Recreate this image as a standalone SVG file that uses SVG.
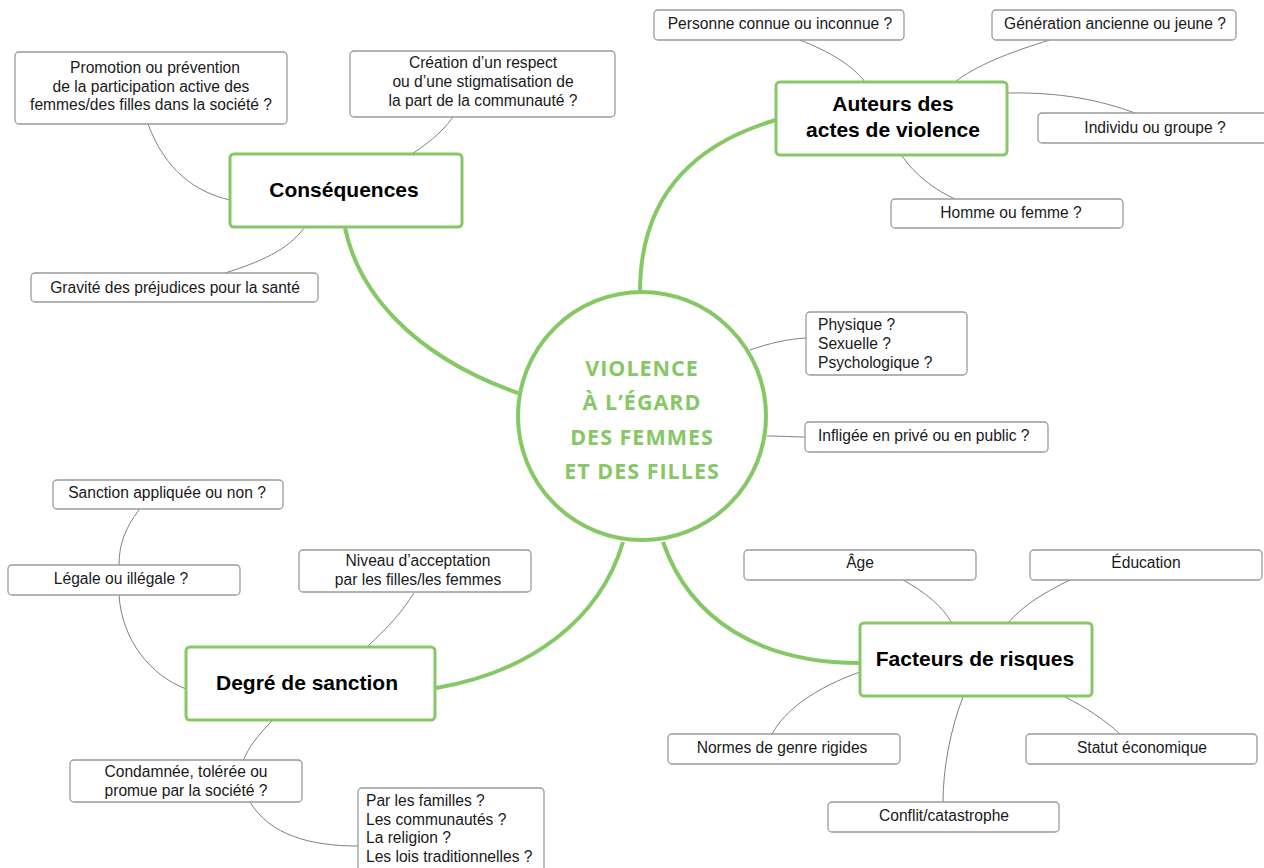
<svg xmlns="http://www.w3.org/2000/svg" width="1264" height="868" viewBox="0 0 1264 868">
<style>
.bg{fill:#ffffff}
.main{fill:#ffffff;stroke:#86c766;stroke-width:3}
.sub{fill:#ffffff;stroke:#9b9b9b;stroke-width:1.3}
.hub{fill:#ffffff;stroke:#86c766;stroke-width:4}
.thick{fill:none;stroke:#86c766;stroke-width:4}
.thin{fill:none;stroke:#808080;stroke-width:1}
.t{font-family:"Liberation Sans",Arial,sans-serif;font-size:15.6px;fill:#1a1a1a}
.c{text-anchor:middle}
.h{font-family:"Liberation Sans",Arial,sans-serif;font-size:21px;font-weight:bold;fill:#000;text-anchor:middle}
.hubt{font-family:"Open Sans","Liberation Sans",sans-serif;font-size:21.5px;font-weight:bold;fill:#86c766;text-anchor:middle;letter-spacing:1px}
</style>
<rect class="bg" x="0" y="0" width="1264" height="868"/>
<g id="connectors">
<path class="thick" d="M640,292 C640,200 690,145 776,120"/>
<path class="thick" d="M345,228 C358,290 410,355 518,393"/>
<path class="thick" d="M436,688 C530,672 600,620 623,542"/>
<path class="thick" d="M663,542 C690,620 760,663 860,663"/>
<path class="thin" d="M148,124 C165,170 195,192 230,200"/>
<path class="thin" d="M453,117 C440,135 425,145 412,154"/>
<path class="thin" d="M225,273 C260,262 288,250 304,228"/>
<path class="thin" d="M800,40 C830,52 852,65 865,82"/>
<path class="thin" d="M1050,40 C1010,52 975,66 955,82"/>
<path class="thin" d="M1008,93 C1060,92 1100,100 1135,113"/>
<path class="thin" d="M902,156 C915,175 935,190 955,199"/>
<path class="thin" d="M750,350 C770,343 788,339 806,338"/>
<path class="thin" d="M767,436 C780,436 793,437 805,437"/>
<path class="thin" d="M139,510 C125,528 119,545 119,565"/>
<path class="thin" d="M119,595 C122,640 150,675 186,689"/>
<path class="thin" d="M414,593 C400,615 385,630 368,646"/>
<path class="thin" d="M272,721 C258,735 248,748 243,761"/>
<path class="thin" d="M250,802 C270,835 310,846 358,846"/>
<path class="thin" d="M903,580 C925,592 942,606 952,623"/>
<path class="thin" d="M1070,580 C1045,592 1022,606 1008,623"/>
<path class="thin" d="M860,672 C815,688 785,710 772,734"/>
<path class="thin" d="M1065,697 C1085,707 1105,720 1120,734"/>
<path class="thin" d="M963,697 C950,730 943,770 943,802"/>
</g>
<g id="hub">
<circle class="hub" cx="642" cy="416" r="124"/>
<text class="hubt" x="642" y="376">VIOLENCE</text>
<text class="hubt" x="642" y="410">À L’ÉGARD</text>
<text class="hubt" x="642" y="445">DES FEMMES</text>
<text class="hubt" x="642" y="479">ET DES FILLES</text>
</g>
<g id="consequences">
<rect class="main" x="230" y="154" width="232" height="73" rx="4"/>
<text class="h" x="344" y="197">Conséquences</text>
</g>
<g id="auteurs">
<rect class="main" x="776" y="82" width="231" height="73" rx="4"/>
<text class="h" x="893" y="111">Auteurs des</text>
<text class="h" x="893" y="137">actes de violence</text>
</g>
<g id="degre">
<rect class="main" x="186" y="647" width="249" height="73" rx="4"/>
<text class="h" x="307" y="690">Degré de sanction</text>
</g>
<g id="facteurs">
<rect class="main" x="860" y="623" width="232" height="73" rx="4"/>
<text class="h" x="975" y="666">Facteurs de risques</text>
</g>
<g id="promotion">
<rect class="sub" x="15" y="52" width="272" height="72" rx="4"/>
<text class="t c" x="155" y="73">Promotion ou prévention</text>
<text class="t c" x="151" y="92">de la participation active des</text>
<text class="t c" x="151" y="110">femmes/des filles dans la société ?</text>
</g>
<g id="creation">
<rect class="sub" x="350" y="51" width="265" height="66" rx="4"/>
<text class="t c" x="483" y="68">Création d’un respect</text>
<text class="t c" x="483" y="87">ou d’une stigmatisation de</text>
<text class="t c" x="483" y="106">la part de la communauté ?</text>
</g>
<g id="gravite">
<rect class="sub" x="31" y="273" width="287" height="29" rx="4"/>
<text class="t c" x="175" y="293">Gravité des préjudices pour la santé</text>
</g>
<g id="personne">
<rect class="sub" x="654" y="10" width="250" height="30" rx="4"/>
<text class="t c" x="780" y="29">Personne connue ou inconnue ?</text>
</g>
<g id="generation">
<rect class="sub" x="992" y="10" width="244" height="30" rx="4"/>
<text class="t c" x="1115" y="29">Génération ancienne ou jeune ?</text>
</g>
<g id="individu">
<rect class="sub" x="1038" y="113" width="232" height="30" rx="4"/>
<text class="t c" x="1155" y="133">Individu ou groupe ?</text>
</g>
<g id="homme">
<rect class="sub" x="891" y="199" width="232" height="29" rx="4"/>
<text class="t c" x="1011" y="218">Homme ou femme ?</text>
</g>
<g id="physique">
<rect class="sub" x="806" y="312" width="161" height="63" rx="4"/>
<text class="t" x="818" y="330">Physique ?</text>
<text class="t" x="818" y="349">Sexuelle ?</text>
<text class="t" x="818" y="368">Psychologique ?</text>
</g>
<g id="infligee">
<rect class="sub" x="805" y="422" width="243" height="30" rx="4"/>
<text class="t" x="818" y="441">Infligée en privé ou en public ?</text>
</g>
<g id="sanction">
<rect class="sub" x="53" y="480" width="230" height="29" rx="4"/>
<text class="t c" x="167" y="498">Sanction appliquée ou non ?</text>
</g>
<g id="legale">
<rect class="sub" x="8" y="565" width="232" height="30" rx="4"/>
<text class="t c" x="121" y="584">Légale ou illégale ?</text>
</g>
<g id="niveau">
<rect class="sub" x="299" y="550" width="232" height="42" rx="4"/>
<text class="t c" x="418" y="566">Niveau d’acceptation</text>
<text class="t c" x="418" y="585">par les filles/les femmes</text>
</g>
<g id="condamnee">
<rect class="sub" x="70" y="760" width="232" height="42" rx="4"/>
<text class="t c" x="186" y="777">Condamnée, tolérée ou</text>
<text class="t c" x="186" y="796">promue par la société ?</text>
</g>
<g id="familles">
<rect class="sub" x="358" y="788" width="186" height="86" rx="4"/>
<text class="t" x="366" y="806">Par les familles ?</text>
<text class="t" x="366" y="825">Les communautés ?</text>
<text class="t" x="366" y="843">La religion ?</text>
<text class="t" x="366" y="862">Les lois traditionnelles ?</text>
</g>
<g id="age">
<rect class="sub" x="744" y="550" width="232" height="30" rx="4"/>
<text class="t c" x="860" y="568">Âge</text>
</g>
<g id="education">
<rect class="sub" x="1030" y="550" width="232" height="30" rx="4"/>
<text class="t c" x="1146" y="568">Éducation</text>
</g>
<g id="normes">
<rect class="sub" x="668" y="734" width="232" height="30" rx="4"/>
<text class="t c" x="782" y="753">Normes de genre rigides</text>
</g>
<g id="statut">
<rect class="sub" x="1026" y="734" width="231" height="30" rx="4"/>
<text class="t c" x="1142" y="753">Statut économique</text>
</g>
<g id="conflit">
<rect class="sub" x="828" y="802" width="231" height="30" rx="4"/>
<text class="t c" x="944" y="821">Conflit/catastrophe</text>
</g>
</svg>
